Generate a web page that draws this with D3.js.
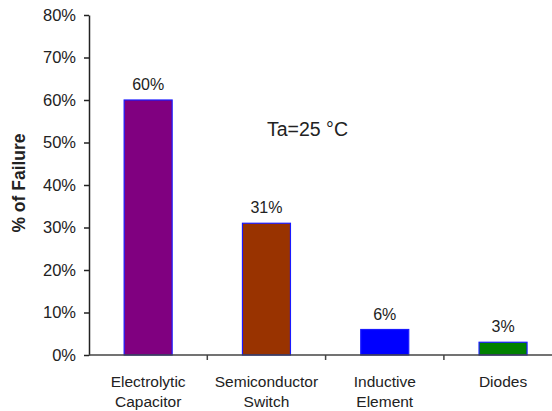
<!DOCTYPE html>
<html>
<head>
<meta charset="utf-8">
<script src="https://cdn.jsdelivr.net/npm/d3@7"></script>
<style>
  html, body { margin: 0; padding: 0; background: #fff; }
  svg { display: block; font-family: "Liberation Sans", Arial, sans-serif; }
</style>
</head>
<body>
<svg id="chart" width="552" height="411"></svg>
<script>
// Failure share by component type
const categories = [["Electrolytic", "Capacitor"], ["Semiconductor", "Switch"], ["Inductive", "Element"], ["Diodes"]];
const failures = [60, 31, 6, 3];
const barColors = ["#800080", "#993300", "#0000ff", "#008000"];
const yTicks = [0, 10, 20, 30, 40, 50, 60, 70, 80];
const note = "Ta=25 °C";
const yTitle = "% of Failure";

const svg = d3.select("#chart");
const plotLeft = 89, plotTop = 15, plotBottom = 355, bandW = 118.3;

const x = d3.scaleBand()
  .domain(d3.range(categories.length))
  .range([plotLeft, plotLeft + bandW * categories.length])
  .paddingInner(0).paddingOuter(0);

const y = d3.scaleLinear().domain([0, 80]).range([plotBottom, plotTop]);

const barW = 48;

// bars
svg.append("g").selectAll("rect")
  .data(failures)
  .join("rect")
  .attr("x", (d, i) => x(i) + x.bandwidth() / 2 - barW / 2)
  .attr("y", d => y(d))
  .attr("width", barW)
  .attr("height", d => y(0) - y(d))
  .attr("fill", (d, i) => barColors[i])
  .attr("stroke", "#1a1aff")
  .attr("stroke-width", 1.2);

// value labels
svg.append("g").selectAll("text")
  .data(failures)
  .join("text")
  .attr("x", (d, i) => x(i) + x.bandwidth() / 2)
  .attr("y", d => y(d) - 10)
  .attr("text-anchor", "middle")
  .attr("font-size", 16)
  .attr("fill", "#222")
  .text(d => d + "%");

// y axis
const yAxis = svg.append("g")
  .attr("transform", `translate(${plotLeft},0)`)
  .call(d3.axisLeft(y).tickValues(yTicks).tickFormat(d => d + "%").tickSize(5).tickPadding(8).tickSizeOuter(0));
yAxis.select(".domain").attr("stroke", "#222").attr("stroke-width", 1.5);
yAxis.selectAll(".tick line").attr("stroke", "#222").attr("stroke-width", 1.5);
yAxis.selectAll(".tick text")
  .attr("font-size", 16.5)
  .attr("fill", "#222")
  .attr("font-family", "Liberation Sans, Arial, sans-serif");

// x axis baseline with ticks at band boundaries
svg.append("line")
  .attr("x1", plotLeft).attr("x2", 552)
  .attr("y1", y(0)).attr("y2", y(0))
  .attr("stroke", "#444").attr("stroke-width", 1.5);
svg.append("g").selectAll("line")
  .data(d3.range(1, categories.length + 1))
  .join("line")
  .attr("x1", i => x(0) + i * x.bandwidth())
  .attr("x2", i => x(0) + i * x.bandwidth())
  .attr("y1", y(0)).attr("y2", y(0) + 5)
  .attr("stroke", "#444").attr("stroke-width", 1.5);

// category labels
const cat = svg.append("g").selectAll("text")
  .data(categories)
  .join("text")
  .attr("text-anchor", "middle")
  .attr("font-size", 15.5)
  .attr("fill", "#222")
  .attr("transform", (d, i) => `translate(${x(i) + x.bandwidth() / 2},387)`);
cat.selectAll("tspan")
  .data(d => d)
  .join("tspan")
  .attr("x", 0)
  .attr("dy", (d, j) => j === 0 ? 0 : 19.5)
  .text(d => d);

// axis title
svg.append("text")
  .attr("transform", `translate(25,183) rotate(-90)`)
  .attr("text-anchor", "middle")
  .attr("font-size", 17.5)
  .attr("font-weight", "bold")
  .attr("fill", "#222")
  .text(yTitle);

// ambient temperature note
svg.append("text")
  .attr("x", 267).attr("y", 136)
  .attr("font-size", 19.5)
  .attr("fill", "#222")
  .text(note);
</script>
</body>
</html>
